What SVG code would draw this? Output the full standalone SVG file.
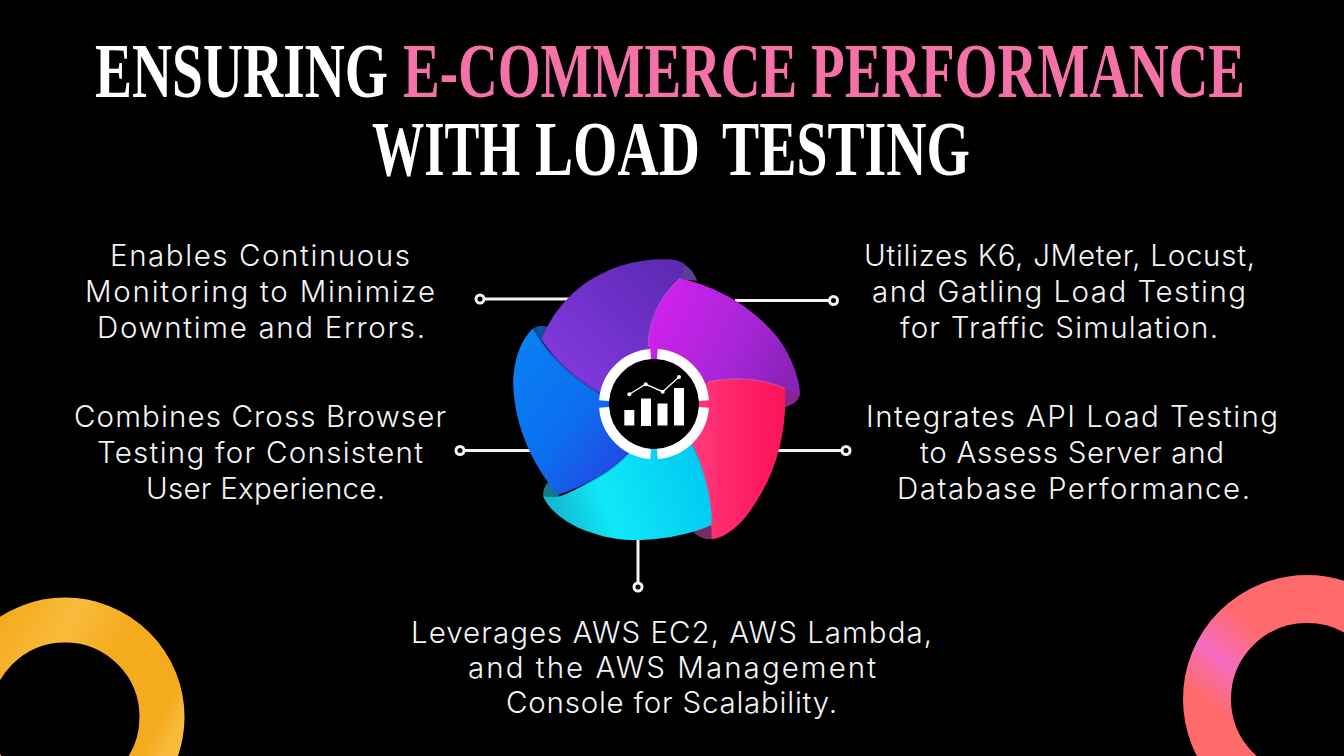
<svg xmlns="http://www.w3.org/2000/svg" width="1344" height="756" viewBox="0 0 1344 756">
<style>
.t{font-family:"Liberation Serif","Times New Roman",serif;font-weight:700;font-size:78px;fill:#fff}
.p{fill:#f472a8}
.b{font-family:"Inter","Open Sans",sans-serif;font-weight:300;font-size:29.500px;fill:#f4f4f4}
.c{stroke:#f4f4f4;stroke-width:3;fill:none}
.d{stroke:#f4f4f4;stroke-width:3;fill:#000}
.edge{fill:none;stroke:#f7c6ee;stroke-width:2;opacity:.55}
.shade{fill:none;stroke:#1a0a50;stroke-width:7;opacity:.22}
</style>
<defs>
<linearGradient id="gPurple" x1="0" y1="1" x2="1" y2="0"><stop offset="0" stop-color="#8a3ce8"/><stop offset="1" stop-color="#5a28b0"/></linearGradient>
<linearGradient id="gMagenta" x1="0" y1="0.2" x2="1" y2="0.6"><stop offset="0" stop-color="#d420f0"/><stop offset="0.6" stop-color="#a826d8"/><stop offset="1" stop-color="#8a22b8"/></linearGradient>
<linearGradient id="gPink" x1="0" y1="0" x2="1" y2="0"><stop offset="0" stop-color="#ff4f8e"/><stop offset="0.7" stop-color="#ff1f64"/><stop offset="1" stop-color="#f8155a"/></linearGradient>
<linearGradient id="gCyan" x1="0" y1="0.6" x2="1" y2="0.3"><stop offset="0" stop-color="#12b8d0"/><stop offset="0.3" stop-color="#10e8f8"/><stop offset="1" stop-color="#00c4f0"/></linearGradient>
<linearGradient id="gBlue" x1="0" y1="0.1" x2="0.9" y2="0.9"><stop offset="0" stop-color="#0a80f2"/><stop offset="0.5" stop-color="#0b6ff0"/><stop offset="1" stop-color="#2a3ee0"/></linearGradient>
<linearGradient id="gYellow" gradientUnits="userSpaceOnUse" x1="0" y1="620" x2="183" y2="720"><stop offset="0" stop-color="#f5ab1e"/><stop offset="0.3" stop-color="#f8bb3c"/><stop offset="0.55" stop-color="#f5ab1e"/><stop offset="0.9" stop-color="#f5ab1e"/><stop offset="1" stop-color="#f8bb3c"/></linearGradient>
<linearGradient id="gCoral" gradientUnits="userSpaceOnUse" x1="1190" y1="700" x2="1260" y2="610"><stop offset="0.1" stop-color="#ff6b6d"/><stop offset="0.45" stop-color="#f56cc0"/><stop offset="0.85" stop-color="#ff6b6d"/></linearGradient>
</defs>
<rect width="1344" height="756" fill="#000"/>

<g id="title">
<text class="t" transform="translate(95 97) scale(.7117 1)" textLength="411.700" lengthAdjust="spacingAndGlyphs">ENSURING</text>
<text class="t p" transform="translate(403 97) scale(.7342 1)" textLength="1146.900" lengthAdjust="spacingAndGlyphs">E-COMMERCE PERFORMANCE</text>
<text class="t" transform="translate(372 175) scale(.6697 1)" textLength="221" lengthAdjust="spacingAndGlyphs">WITH</text>
<text class="t" transform="translate(535 175) scale(.7323 1)" textLength="225.300" lengthAdjust="spacingAndGlyphs">LOAD</text>
<text class="t" transform="translate(722 175) scale(.7151 1)" textLength="346.800" lengthAdjust="spacingAndGlyphs">TESTING</text>
</g>

<g id="decor-yellow"><circle cx="65" cy="717" r="97" fill="none" stroke="url(#gYellow)" stroke-width="45"/></g>
<g id="decor-coral"><circle cx="1307" cy="699" r="100" fill="none" stroke="url(#gCoral)" stroke-width="48"/></g>

<g id="connectors">
<path class="c" d="M484 299H578"/><circle class="d" cx="480" cy="299" r="4"/>
<path class="c" d="M735 300.500H830"/><circle class="d" cx="833.500" cy="300.500" r="4"/>
<path class="c" d="M464 450.500H532"/><circle class="d" cx="460" cy="450.500" r="4"/>
<path class="c" d="M778 450.500H842"/><circle class="d" cx="846" cy="450.500" r="4"/>
<path class="c" d="M638 536V583"/><circle class="d" cx="638" cy="587" r="4"/>
</g>

<g id="hub">
<g transform="translate(470 240) scale(.3333)">
<path d="M190,265C205,255 225,258 238,262L215,305Z" fill="#12509c"/>
<path d="M590,58C630,58 665,80 682,122L625,118Z" fill="#5b3f96"/>
<path d="M940,440C965,452 985,462 990,465C985,485 965,495 945,502Z" fill="#8a2490"/>
<path d="M668,875C690,865 710,860 728,850L730,896L712,898C695,895 680,885 668,875Z" fill="#7a2a60"/>
<path d="M235,725C222,740 218,755 220,770L270,772Z" fill="#127a88"/>
<path id="petal-purple" d="M215,300C250,200 340,110 460,75C530,55 600,52 640,68C650,75 640,95 630,115C570,170 535,240 535,330L553,492L390,460C330,430 260,370 215,300Z" fill="url(#gPurple)"/>
<path id="petal-magenta" d="M630,115C740,140 850,200 925,295C965,350 990,420 990,465C975,462 960,452 945,445C880,415 790,410 715,425L553,492L535,330C535,240 570,170 630,115Z" fill="url(#gMagenta)"/>
<path id="petal-pink" d="M715,425C790,410 880,415 945,445C952,560 925,680 865,775C825,845 775,892 725,898C725,780 700,680 670,620L553,492Z" fill="url(#gPink)"/>
<path id="petal-cyan" d="M475,640C400,700 330,750 265,770C250,772 235,772 220,768C225,790 270,850 370,880C420,897 470,902 510,900C590,898 670,880 725,855C728,780 700,680 670,620L553,492Z" fill="url(#gCyan)"/>
<path id="petal-blue" d="M190,265C150,300 128,370 130,440C135,560 190,680 265,765C340,740 420,700 475,640L553,492L390,460C320,420 245,360 190,265Z" fill="url(#gBlue)"/>
<path class="edge" d="M630,115C570,170 535,240 535,320"/>
<path class="edge" d="M715,425C790,410 880,415 945,445"/>
<path class="shade" d="M190,265C245,360 320,420 390,460"/>
<path class="shade" d="M265,765C340,740 420,700 475,640"/>
</g>
<circle cx="654" cy="404" r="45" fill="#000"/>
<circle cx="654" cy="404" r="50" fill="none" stroke="#fff" stroke-width="10" pathLength="320" stroke-dasharray="73 7" stroke-dashoffset="-3.500"/>
<g fill="#fff">
<rect x="624.300" y="410" width="10" height="15.500"/>
<rect x="641" y="398.500" width="10" height="27.500"/>
<rect x="657.500" y="403.500" width="10" height="22"/>
<rect x="674" y="388" width="10" height="37.500"/>
</g>
<polyline points="629.300,394.300 645.700,384.300 662.700,391.700 679,377" fill="none" stroke="#fff" stroke-width="1.300"/>
<g fill="#fff"><circle cx="629.300" cy="394.300" r="2"/><circle cx="645.700" cy="384.300" r="2"/><circle cx="662.700" cy="391.700" r="2"/><circle cx="679" cy="377" r="2"/></g>
</g>

<g id="label-monitoring">
<text class="b" x="110" y="266" textLength="300">Enables Continuous</text>
<text class="b" x="85" y="302" textLength="350">Monitoring to Minimize</text>
<text class="b" x="97" y="338" textLength="328">Downtime and Errors.</text>
</g>
<g id="label-tools">
<text class="b" x="864" y="266" textLength="391">Utilizes K6, JMeter, Locust,</text>
<text class="b" x="872" y="302" textLength="374">and Gatling Load Testing</text>
<text class="b" x="900" y="338" textLength="318">for Traffic Simulation.</text>
</g>
<g id="label-browser">
<text class="b" x="74" y="427" textLength="372">Combines Cross Browser</text>
<text class="b" x="97" y="463" textLength="326">Testing for Consistent</text>
<text class="b" x="146" y="499" textLength="239">User Experience.</text>
</g>
<g id="label-api">
<text class="b" x="866" y="427" textLength="412">Integrates API Load Testing</text>
<text class="b" x="920" y="463" textLength="304">to Assess Server and</text>
<text class="b" x="897" y="499" textLength="353">Database Performance.</text>
</g>
<g id="label-aws">
<text class="b" x="411" y="643" textLength="521">Leverages AWS EC2, AWS Lambda,</text>
<text class="b" x="468" y="678" textLength="408">and the AWS Management</text>
<text class="b" x="506" y="713" textLength="331">Console for Scalability.</text>
</g>
</svg>
